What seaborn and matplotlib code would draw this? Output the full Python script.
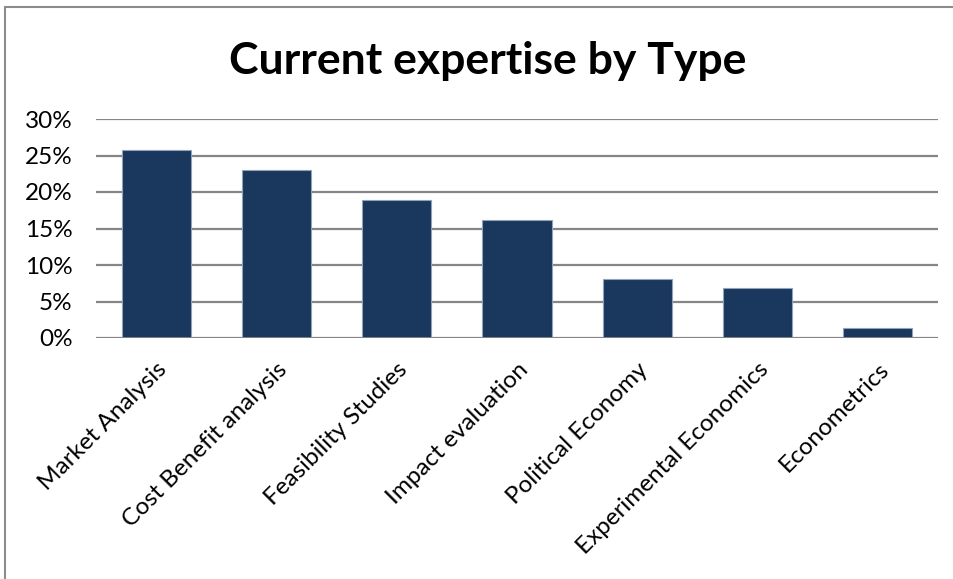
import matplotlib
matplotlib.use("Agg")
import matplotlib.pyplot as plt
import seaborn as sns
import pandas as pd
from matplotlib.lines import Line2D
from matplotlib.ticker import PercentFormatter

categories = ["Market Analysis", "Cost Benefit analysis", "Feasibility Studies",
              "Impact evaluation", "Political Economy", "Experimental Economics",
              "Econometrics"]
shares = [25.7, 23.0, 18.9, 16.2, 8.1, 6.8, 1.4]
y_ticks = [0, 5, 10, 15, 20, 25, 30]

df = pd.DataFrame({"type": categories, "share": shares})

sns.set_theme(style="white")
plt.rcParams["font.family"] = ["Lato", "DejaVu Sans"]

fig = plt.figure(figsize=(9.54, 5.79), dpi=100)
ax = fig.add_axes([96 / 954, 241 / 579, 842 / 954, 219 / 579])

sns.barplot(data=df, x="type", y="share", color="#1a375d", width=0.575,
            edgecolor="#8fa3bd", linewidth=0.8, saturation=1, ax=ax)

ax.set_ylim(0, 30)
ax.set_xlim(-0.5, len(categories) - 0.5)
ax.set_yticks(y_ticks)
ax.yaxis.set_major_formatter(PercentFormatter(decimals=0))
ax.grid(axis="y", color="#868686", linewidth=1.6)
ax.set_axisbelow(True)
for side in ["top", "right", "left", "bottom"]:
    ax.spines[side].set_visible(False)
ax.axhline(0, color="#868686", linewidth=2, zorder=3)
ax.tick_params(axis="y", labelsize=17.5, length=0, pad=17, colors="black")
ax.tick_params(axis="x", labelsize=17.5, length=0, pad=15, colors="black")
ax.set_xticks(range(len(categories)))
ax.set_xticklabels(categories, rotation=45, ha="right", rotation_mode="anchor")
ax.set_xlabel("")
ax.set_ylabel("")

fig.text(488 / 954, 1 - 61 / 579, "Current expertise by Type", ha="center",
         va="center", fontsize=32, fontweight="bold", color="black")

# chart frame
fig.add_artist(Line2D([5.5 / 954, 5.5 / 954], [0, 1 - 7 / 579],
                      transform=fig.transFigure, color="#8c8c8c", linewidth=1.5))
fig.add_artist(Line2D([5.5 / 954, 1], [1 - 7 / 579, 1 - 7 / 579],
                      transform=fig.transFigure, color="#8c8c8c", linewidth=1.5))

fig.savefig("out.png", dpi=100)
